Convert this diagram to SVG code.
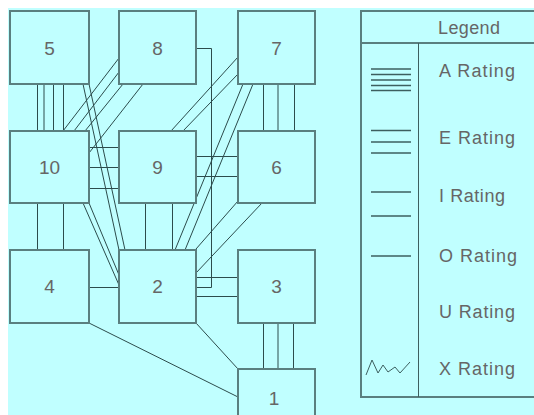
<svg xmlns="http://www.w3.org/2000/svg" width="534" height="415" viewBox="0 0 534 415">
<style>
.box{fill:#c0ffff;stroke:#5a7f7f;stroke-width:2}
.lbl{font-family:"Liberation Sans",Arial,sans-serif;font-size:19px;fill:#666;text-anchor:middle}
.lg{font-family:"Liberation Sans",Arial,sans-serif;font-size:18px;fill:#666}
.c line,.c polyline,.c path{stroke:#2c4c4c;stroke-width:1;fill:none}
.sym line{stroke:#3d5f5f;stroke-width:1.3}
</style>
<rect x="0" y="0" width="534" height="415" fill="#ffffff"/>
<rect x="8" y="8" width="526" height="407" fill="#c0ffff"/>

<g class="c" id="connectors">
  <!-- 5-10 A -->
  <line x1="37.5" y1="84" x2="37.5" y2="131"/>
  <line x1="44" y1="84" x2="44" y2="131"/>
  <line x1="53.5" y1="84" x2="53.5" y2="131"/>
  <line x1="63.5" y1="84" x2="63.5" y2="131"/>
  <!-- 8-10 A -->
  <line x1="119" y1="58" x2="63" y2="131"/>
  <line x1="119" y1="72" x2="74" y2="131"/>
  <line x1="123" y1="84" x2="85" y2="131"/>
  <line x1="143" y1="84" x2="89" y2="153"/>
  <!-- 10-9 E -->
  <line x1="89" y1="147.5" x2="119" y2="147.5"/>
  <line x1="89" y1="167.5" x2="119" y2="167.5"/>
  <line x1="89" y1="188.5" x2="119" y2="188.5"/>
  <!-- 10-4 I -->
  <line x1="37.5" y1="203" x2="37.5" y2="250"/>
  <line x1="63.5" y1="203" x2="63.5" y2="250"/>
  <!-- 9-2 I -->
  <line x1="145.5" y1="203" x2="145.5" y2="250"/>
  <line x1="172.5" y1="203" x2="172.5" y2="250"/>
  <!-- 5-2 I -->
  <line x1="83" y1="84" x2="119" y2="250"/>
  <line x1="89" y1="84" x2="125" y2="250"/>
  <!-- 10-2 I -->
  <line x1="89" y1="203" x2="119" y2="275"/>
  <line x1="83" y1="203" x2="119" y2="285"/>
  <!-- 4-2 O -->
  <line x1="89" y1="287.5" x2="119" y2="287.5"/>
  <!-- 4-1 O -->
  <line x1="89" y1="323" x2="238" y2="397"/>
  <!-- 2-1 O -->
  <line x1="196" y1="323" x2="238" y2="369"/>
  <!-- 3-1 E -->
  <line x1="263.5" y1="323" x2="263.5" y2="369"/>
  <line x1="278" y1="323" x2="278" y2="369"/>
  <line x1="293.5" y1="323" x2="293.5" y2="369"/>
  <!-- 7-6 E -->
  <line x1="263.5" y1="84" x2="263.5" y2="131"/>
  <line x1="278" y1="84" x2="278" y2="131"/>
  <line x1="294.5" y1="84" x2="294.5" y2="131"/>
  <!-- 2-3 I -->
  <line x1="196" y1="277.5" x2="238" y2="277.5"/>
  <line x1="196" y1="296.5" x2="238" y2="296.5"/>
  <!-- 9-6 I -->
  <line x1="196" y1="156.5" x2="238" y2="156.5"/>
  <line x1="196" y1="176.5" x2="238" y2="176.5"/>
  <!-- 9-7 I -->
  <line x1="238" y1="57" x2="171" y2="131"/>
  <line x1="238" y1="74" x2="183" y2="131"/>
  <!-- 7-2 I -->
  <line x1="243" y1="84" x2="175" y2="250"/>
  <line x1="253" y1="84" x2="185" y2="250"/>
  <!-- 6-2 I -->
  <line x1="238" y1="201" x2="196" y2="249"/>
  <line x1="262" y1="203" x2="196" y2="273"/>
  <!-- 8-2 O -->
  <polyline points="196,48.5 211.5,48.5 211.5,287.5 196,287.5"/>
</g>

<g id="node5"><rect class="box" x="10" y="11" width="79" height="73"/><text class="lbl" x="49.5" y="55">5</text></g>
<g id="node8"><rect class="box" x="119" y="11" width="77" height="73"/><text class="lbl" x="157.5" y="55">8</text></g>
<g id="node7"><rect class="box" x="238" y="11" width="77" height="73"/><text class="lbl" x="276.5" y="55">7</text></g>
<g id="node10"><rect class="box" x="10" y="131" width="79" height="72"/><text class="lbl" x="49.5" y="174">10</text></g>
<g id="node9"><rect class="box" x="119" y="131" width="77" height="72"/><text class="lbl" x="157.5" y="174">9</text></g>
<g id="node6"><rect class="box" x="238" y="131" width="77" height="72"/><text class="lbl" x="276.5" y="174">6</text></g>
<g id="node4"><rect class="box" x="10" y="250" width="79" height="73"/><text class="lbl" x="49.5" y="293">4</text></g>
<g id="node2"><rect class="box" x="119" y="250" width="77" height="73"/><text class="lbl" x="157.5" y="293">2</text></g>
<g id="node3"><rect class="box" x="238" y="250" width="77" height="73"/><text class="lbl" x="276.5" y="293">3</text></g>
<g id="node1"><rect class="box" x="238" y="369" width="77" height="73"/><text class="lbl" x="274" y="405">1</text></g>

<g id="legend">
  <rect x="361" y="11" width="190" height="386" fill="none" stroke="#5a7f7f" stroke-width="2"/>
  <line x1="361" y1="43" x2="534" y2="43" stroke="#5a7f7f" stroke-width="2"/>
  <line x1="418.5" y1="43" x2="418.5" y2="397" stroke="#3d5f5f" stroke-width="1"/>
  <text class="lg" x="438" y="34" textLength="62" lengthAdjust="spacing">Legend</text>
  <text class="lg" x="439" y="77" textLength="76" lengthAdjust="spacing">A Rating</text>
  <text class="lg" x="439" y="143.5" textLength="76" lengthAdjust="spacing">E Rating</text>
  <text class="lg" x="439" y="201.5" textLength="66" lengthAdjust="spacing">I Rating</text>
  <text class="lg" x="439" y="262" textLength="78" lengthAdjust="spacing">O Rating</text>
  <text class="lg" x="439" y="318" textLength="76" lengthAdjust="spacing">U Rating</text>
  <text class="lg" x="439" y="375" textLength="76" lengthAdjust="spacing">X Rating</text>
  <g class="sym">
    <line x1="371" y1="69" x2="411" y2="69"/>
    <line x1="371" y1="74.5" x2="411" y2="74.5"/>
    <line x1="371" y1="80" x2="411" y2="80"/>
    <line x1="371" y1="85.5" x2="411" y2="85.5"/>
    <line x1="371" y1="90.5" x2="411" y2="90.5"/>
    <line x1="371" y1="130.5" x2="411" y2="130.5"/>
    <line x1="371" y1="142" x2="411" y2="142"/>
    <line x1="371" y1="153" x2="411" y2="153"/>
    <line x1="371" y1="192" x2="411" y2="192"/>
    <line x1="371" y1="216" x2="411" y2="216"/>
    <line x1="371" y1="256" x2="411" y2="256"/>
  </g>
  <polyline points="366,375 372,360 378,373 383,365 388,372 395,367 400,373 410,362" fill="none" stroke="#3d5f5f" stroke-width="1"/>
</g>
</svg>
